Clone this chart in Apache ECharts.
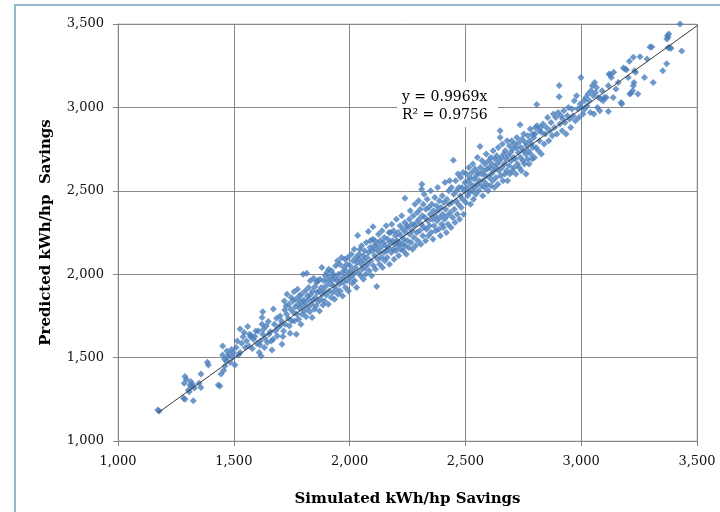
<!DOCTYPE html>
<html>
<head>
<meta charset="utf-8">
<script src="https://cdn.jsdelivr.net/npm/echarts@6/dist/echarts.min.js"></script>
<style>
  html, body { margin: 0; padding: 0; background: #fff; }
  #chart_scatter { width: 720px; height: 512px; }
</style>
</head>
<body>
<div id="chart_scatter"></div>
<script>
// [simulated, predicted], grouped by simulated range
let points1100 = [[1172,1186],[1178,1180],[1283,1256],[1289,1250],[1289,1386],[1286,1346],[1295,1370],[1304,1306],[1308,1296],[1311,1336],[1314,1356],[1318,1326],[1322,1340],[1325,1242],[1330,1318],[1350,1346],[1358,1402],[1358,1320],[1386,1472],[1390,1456],[1433,1336],[1440,1330],[1445,1402],[1452,1570],[1452,1516],[1456,1422],[1460,1490],[1462,1450],[1468,1480],[1470,1540],[1475,1505],[1480,1520],[1485,1470],[1490,1548],[1495,1500],[1498,1530]];

let points1500 = [[1505,1455],[1510,1560],[1515,1600],[1520,1516],[1527,1530],[1527,1672],[1534,1586],[1540,1625],[1545,1650],[1550,1560],[1555,1600],[1560,1686],[1565,1570],[1568,1640],[1572,1625],[1575,1632],[1580,1555],[1585,1610],[1591,1626],[1595,1660],[1600,1585],[1606,1660],[1610,1530],[1612,1575],[1615,1600],[1618,1510],[1622,1700],[1622,1740],[1625,1775],[1625,1640],[1628,1670],[1632,1560],[1635,1615],[1640,1690],[1645,1590],[1649,1716],[1652,1640],[1658,1655],[1662,1600],[1665,1545],[1670,1610],[1671,1792],[1675,1700],[1680,1660],[1685,1736],[1688,1630],[1692,1680],[1700,1750],[1703,1695],[1706,1720],[1708,1580],[1712,1626],[1715,1660],[1718,1840],[1720,1785],[1722,1700],[1725,1810],[1728,1760],[1730,1880],[1735,1735],[1738,1820],[1740,1690],[1743,1646],[1745,1790],[1748,1860],[1750,1720]];

let points1750 = [[1755,1840],[1758,1770],[1760,1895],[1762,1720],[1765,1805],[1768,1850],[1770,1640],[1772,1760],[1775,1910],[1778,1820],[1780,1730],[1782,1870],[1785,1795],[1788,1840],[1790,1700],[1792,1880],[1795,1760],[1798,1815],[1800,2000],[1802,1845],[1805,1780],[1808,1900],[1810,1830],[1812,1745],[1815,2005],[1818,1870],[1820,1800],[1823,1920],[1825,1850],[1828,1775],[1830,1960],[1832,1880],[1835,1820],[1838,1740],[1840,1900],[1843,1845],[1845,1975],[1848,1790],[1850,1925],[1852,1860],[1855,1810],[1858,1950],[1860,1890],[1862,1960],[1865,1835],[1868,1900],[1870,1780],[1872,1970],[1875,1850],[1878,1920],[1880,2040],[1882,1880],[1885,1815],[1888,1960],[1890,1900],[1892,1840],[1895,1990],[1898,1930],[1900,1875],[1902,2010],[1905,1960],[1908,1820],[1910,2030],[1912,1900],[1915,1985],[1918,1940],[1920,1860],[1922,2020],[1925,1965],[1928,1890],[1930,2000],[1932,1930],[1935,1850],[1938,1980],[1940,2050],[1942,1910],[1945,1960],[1948,2080],[1950,1880],[1952,2000],[1955,1940],[1958,2060],[1960,1900],[1962,1970],[1965,2100],[1968,2010],[1970,1870],[1972,1950],[1975,2040],[1978,1985],[1980,2090],[1982,1920],[1985,2020],[1988,2060],[1990,1960],[1992,2100],[1995,1900],[1998,2000]];

let points2000 = [[2002,2050],[2005,1980],[2008,2120],[2010,2020],[2012,1945],[2015,2080],[2018,2000],[2020,2150],[2022,1960],[2025,2040],[2028,2100],[2030,1920],[2032,2070],[2035,2232],[2038,2010],[2040,2120],[2042,2090],[2045,2150],[2048,1990],[2050,2060],[2052,2170],[2055,2030],[2058,2110],[2060,1970],[2062,2080],[2065,2140],[2068,2040],[2070,2000],[2072,2190],[2075,2100],[2078,2060],[2081,2256],[2083,2130],[2085,2020],[2088,2160],[2090,2200],[2092,2080],[2095,1990],[2098,2140],[2100,2210],[2101,2284],[2103,2050],[2105,2170],[2108,2110],[2110,2200],[2112,2030],[2115,2150],[2117,1926],[2120,2180],[2122,2090],[2125,2240],[2128,2130],[2130,2060],[2132,2200],[2135,2160],[2138,2100],[2140,2260],[2142,2040],[2145,2190],[2148,2130],[2150,2220],[2152,2080],[2155,2170],[2158,2290],[2160,2140],[2162,2100],[2165,2210],[2168,2160],[2170,2250],[2172,2060],[2175,2190],[2177,2250],[2180,2130],[2182,2300],[2185,2200],[2188,2150],[2190,2260],[2192,2090],[2195,2180],[2198,2230],[2200,2140],[2202,2330],[2205,2200],[2208,2170],[2210,2250],[2212,2110],[2215,2190],[2218,2290],[2220,2150],[2222,2230],[2225,2350],[2228,2180],[2230,2270],[2232,2140],[2235,2210],[2238,2310],[2239,2456],[2240,2170],[2242,2250],[2245,2120],[2248,2290],[2250,2200]];

let points2250 = [[2252,2280],[2255,2160],[2258,2330],[2260,2240],[2262,2380],[2265,2190],[2268,2300],[2270,2260],[2272,2150],[2275,2350],[2278,2220],[2280,2290],[2282,2420],[2285,2170],[2288,2310],[2290,2250],[2292,2370],[2295,2200],[2298,2440],[2300,2330],[2302,2260],[2305,2390],[2308,2180],[2310,2300],[2311,2510],[2312,2540],[2314,2350],[2316,2230],[2318,2420],[2320,2280],[2322,2480],[2325,2340],[2328,2200],[2330,2390],[2332,2270],[2335,2450],[2338,2320],[2340,2230],[2342,2400],[2345,2290],[2348,2360],[2350,2500],[2352,2250],[2355,2420],[2358,2330],[2360,2210],[2362,2380],[2365,2290],[2368,2460],[2370,2350],[2372,2260],[2375,2410],[2378,2320],[2380,2520],[2382,2380],[2385,2270],[2388,2440],[2390,2340],[2392,2230],[2395,2400],[2398,2300],[2400,2470],[2402,2360],[2405,2280],[2408,2430],[2410,2330],[2412,2550],[2415,2390],[2418,2250],[2420,2450],[2422,2350],[2425,2300],[2428,2500],[2430,2420],[2432,2560],[2435,2370],[2438,2280],[2440,2520],[2442,2430],[2445,2340],[2448,2683],[2450,2480],[2452,2390],[2455,2310],[2458,2560],[2460,2440],[2462,2500],[2465,2360],[2468,2600],[2470,2420],[2472,2520],[2475,2330],[2478,2470],[2480,2580],[2482,2400],[2485,2520],[2488,2450],[2490,2610],[2492,2360],[2495,2500],[2498,2550]];

let points2500 = [[2502,2430],[2505,2600],[2508,2520],[2510,2470],[2512,2560],[2515,2640],[2518,2490],[2520,2580],[2522,2420],[2525,2540],[2528,2610],[2530,2500],[2532,2660],[2535,2450],[2538,2570],[2540,2520],[2542,2630],[2545,2480],[2548,2590],[2550,2540],[2552,2700],[2555,2610],[2558,2500],[2560,2560],[2563,2766],[2565,2640],[2568,2530],[2570,2600],[2572,2680],[2575,2470],[2578,2560],[2580,2620],[2582,2520],[2585,2660],[2588,2590],[2590,2720],[2592,2540],[2595,2630],[2598,2500],[2600,2680],[2603,2580],[2605,2640],[2608,2530],[2610,2700],[2612,2600],[2615,2660],[2618,2560],[2620,2740],[2622,2620],[2625,2520],[2628,2690],[2630,2640],[2632,2580],[2635,2710],[2638,2660],[2640,2540],[2642,2760],[2645,2620],[2648,2680],[2650,2820],[2650,2860],[2652,2590],[2655,2700],[2658,2640],[2660,2780],[2662,2560],[2665,2720],[2668,2660],[2670,2600],[2672,2740],[2675,2690],[2678,2620],[2680,2800],[2682,2560],[2685,2710],[2688,2650],[2690,2770],[2692,2600],[2695,2730],[2698,2680],[2700,2800],[2702,2620],[2705,2750],[2708,2700],[2710,2640],[2712,2780],[2715,2690],[2718,2600],[2720,2760],[2722,2820],[2725,2660],[2728,2730],[2730,2790],[2732,2640],[2736,2896],[2738,2700],[2740,2760],[2742,2620],[2745,2810],[2748,2680],[2750,2740],[2752,2840],[2755,2660],[2758,2790],[2760,2720],[2762,2600],[2765,2770],[2768,2690],[2770,2830],[2772,2740],[2775,2660],[2778,2800],[2780,2870],[2782,2720],[2785,2780],[2788,2690],[2790,2840],[2792,2760],[2795,2820],[2798,2700]];

let points2800 = [[2800,2840],[2802,2880],[2805,2760],[2808,3018],[2810,2890],[2815,2740],[2818,2860],[2820,2800],[2825,2880],[2828,2720],[2830,2850],[2835,2900],[2840,2780],[2845,2840],[2850,2880],[2855,2940],[2860,2800],[2865,2860],[2870,2910],[2875,2830],[2880,2960],[2885,2880],[2890,2940],[2895,2840],[2900,2970],[2905,3064],[2905,3132],[2908,2900],[2912,2950],[2918,2860],[2920,2930],[2925,2980],[2930,2910],[2935,2840],[2940,2950],[2945,3000],[2950,2930],[2955,2880],[2960,2990],[2965,2950],[2970,3040],[2975,2920],[2980,3070],[2985,2990],[2990,2940],[2995,3020],[2999,3180],[3002,3000],[3008,2960],[3012,3040],[3015,2990],[3020,3060],[3025,3010],[3030,3080],[3035,3040],[3040,2970],[3042,3100],[3048,3130],[3052,3070],[3055,2960],[3058,3150],[3062,3090],[3066,3120],[3070,3000],[3075,3060],[3080,2980],[3085,3050],[3090,3100],[3095,3040],[3100,3060]];

let points3100 = [[3108,3060],[3117,3130],[3117,2976],[3120,3200],[3125,3195],[3130,3180],[3138,3060],[3140,3210],[3150,3110],[3160,3150],[3172,3030],[3175,3020],[3182,3236],[3190,3230],[3195,3225],[3203,3180],[3208,3276],[3210,3080],[3215,3085],[3222,3100],[3225,3300],[3225,3130],[3228,3150],[3230,3220],[3235,3210],[3245,3080],[3254,3304],[3273,3180],[3284,3290],[3297,3362],[3305,3362],[3311,3150],[3352,3220],[3369,3262],[3370,3410],[3372,3430],[3375,3420],[3378,3440],[3375,3358],[3382,3358],[3388,3355],[3427,3500],[3434,3338]];

let trendSlope = 0.9969;
let rSquared = 0.9756;
let trendRange = [1172, 3500];

let allPoints = [].concat(points1100, points1500, points1750, points2000, points2250, points2500, points2800, points3100);

let chart_scatter = document.getElementById("chart_scatter");
let myChart = echarts.init(chart_scatter);

let serif = 'DejaVu Serif';
let gridColor = '#878787';

let option = {
    animation: false,
    backgroundColor: '#fff',
    grid: {
        left: 118, right: 23, top: 24, bottom: 71,
        show: true, borderColor: '#c4c4c4', borderWidth: 1
    },
    xAxis: {
        type: 'value',
        min: 1000, max: 3500, interval: 500,
        name: 'Simulated kWh/hp Savings',
        nameLocation: 'middle',
        nameGap: 51,
        nameTextStyle: { fontFamily: serif, fontWeight: 'bold', fontSize: 15, color: '#000' },
        axisLine: { show: true, lineStyle: { color: gridColor, width: 1 } },
        axisTick: { show: true, length: 5, lineStyle: { color: gridColor } },
        axisLabel: {
            margin: 14, fontFamily: serif, fontSize: 13, color: '#111',
            formatter: v => v.toLocaleString('en-US')
        },
        splitLine: { show: true, lineStyle: { color: gridColor, width: 1 } }
    },
    yAxis: {
        type: 'value',
        min: 1000, max: 3500, interval: 500,
        name: 'Predicted kWh/hp  Savings',
        nameLocation: 'middle',
        nameGap: 64,
        nameTextStyle: { fontFamily: serif, fontWeight: 'bold', fontSize: 15, color: '#000' },
        axisLine: { show: true, lineStyle: { color: gridColor, width: 1 } },
        axisTick: { show: true, length: 5, lineStyle: { color: gridColor } },
        axisLabel: {
            margin: 14, fontFamily: serif, fontSize: 13, color: '#111',
            formatter: v => v.toLocaleString('en-US')
        },
        splitLine: { show: true, lineStyle: { color: gridColor, width: 1 } }
    },
    series: [
        {
            type: 'scatter',
            data: allPoints,
            symbol: 'diamond',
            symbolSize: 7,
            itemStyle: { color: '#4a7ebb' },
            z: 3
        },
        {
            type: 'line',
            data: trendRange.map(x => [x, x * trendSlope]),
            symbol: 'none',
            lineStyle: { color: '#3a3a3a', width: 1 },
            z: 4
        }
    ],
    graphic: [
        {
            type: 'rect',
            shape: { x: 15, y: 5, width: 720, height: 530 },
            style: { fill: 'none', stroke: '#93b9cf', lineWidth: 2 },
            z: 10
        },
        {
            type: 'rect',
            shape: { x: 397, y: 82, width: 101, height: 45 },
            style: { fill: '#fff' },
            z: 5
        },
        {
            type: 'text',
            x: 402, y: 88,
            style: {
                text: 'y = ' + trendSlope + 'x\nR\u00b2 = ' + rSquared,
                font: '14px "DejaVu Serif"',
                fill: '#000',
                lineHeight: 18
            },
            z: 6
        }
    ]
};

myChart.setOption(option);
</script>
</body>
</html>
